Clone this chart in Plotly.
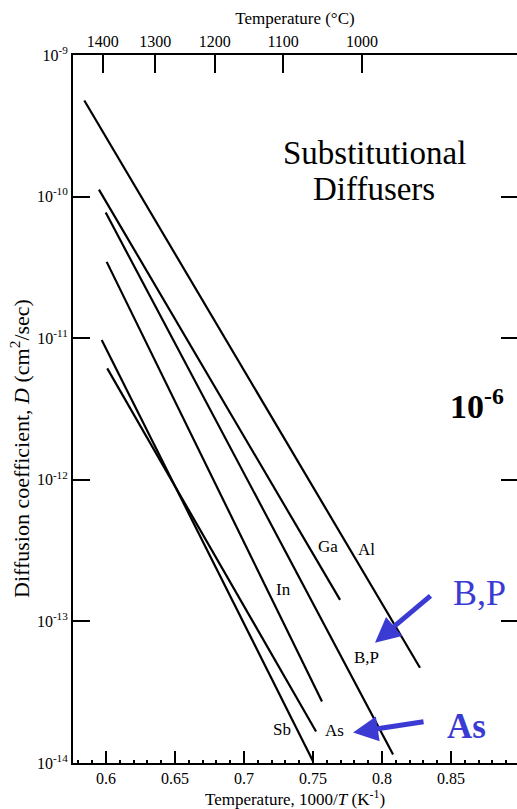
import math
import plotly.graph_objects as go

# ---------------- data ----------------
elements = ["Al", "Ga", "B,P", "In", "Sb", "As"]
x_start = [0.5843, 0.5949, 0.5998, 0.6005, 0.5969, 0.6009]
x_end = [0.8275, 0.7696, 0.8080, 0.7565, 0.7500, 0.7522]
d_start = [4.77e-10, 1.12e-10, 7.71e-11, 3.46e-11, 9.70e-12, 6.12e-12]
d_end = [4.71e-14, 1.42e-13, 1.15e-14, 2.72e-14, 1.03e-14, 1.67e-14]

label_x = [0.7891, 0.7609, 0.7884, 0.7283, 0.7275, 0.7659]
label_d = [3.21e-13, 3.37e-13, 5.53e-14, 1.67e-13, 1.72e-14, 1.69e-14]

celsius_ticks = [1400, 1300, 1200, 1100, 1000]
x_ticks = [0.6, 0.65, 0.7, 0.75, 0.8, 0.85]
y_exps = [-9, -10, -11, -12, -13, -14]

FONT = "Liberation Serif"
BLUE = "#3b3bd4"

fig = go.Figure()
for name, xs, xe, ds, de in zip(elements, x_start, x_end, d_start, d_end):
    fig.add_trace(go.Scatter(x=[xs, xe], y=[ds, de], mode="lines",
                             line=dict(color="black", width=2.2),
                             name=name, showlegend=False, hoverinfo="skip"))

# dummy traces to activate secondary axes
x_range = [0.5761, 0.8978]
fig.add_trace(go.Scatter(x=x_range, y=[1e-12, 1e-12], xaxis="x2", mode="lines",
                         line=dict(width=0), showlegend=False, hoverinfo="skip"))
fig.add_trace(go.Scatter(x=x_range, y=[1e-12, 1e-12], yaxis="y2", mode="lines",
                         line=dict(width=0), showlegend=False, hoverinfo="skip"))

# line labels
for name, lx, ld in zip(elements, label_x, label_d):
    fig.add_annotation(x=lx, y=math.log10(ld), text=name, showarrow=False,
                       xanchor="center", yanchor="middle",
                       font=dict(family=FONT, size=17, color="black"))

tick_font = dict(family=FONT, size=16, color="black")
title_font = dict(family=FONT, size=17, color="black")

PL, PT, PW, PH = 73, 55, 444.0, 708.0


def px(xp):
    return (xp - PL) / PW


def py(yp):
    return 1 - (yp - PT) / PH


fig.update_layout(
    width=517, height=809,
    margin=dict(l=PL, r=0, t=PT, b=46),
    paper_bgcolor="white", plot_bgcolor="white",
    xaxis=dict(range=x_range, tickvals=x_ticks, ticktext=[str(v) for v in x_ticks],
               ticks="inside", ticklen=12, tickwidth=1.5, tickcolor="black",
               showline=True, linewidth=2, linecolor="black", showgrid=False,
               zeroline=False, tickfont=tick_font,
               minor=dict(dtick=0.01, ticks="inside", ticklen=3, tickcolor="black", showgrid=False),
               title=dict(text="Temperature, 1000/<i>T</i> (K<sup>-1</sup>)", font=title_font, standoff=1)),
    xaxis2=dict(range=x_range, overlaying="x", side="top",
                tickvals=[1000.0 / (c + 273.0) for c in celsius_ticks],
                ticktext=[str(c) for c in celsius_ticks],
                ticks="inside", ticklen=18, tickwidth=1.5, tickcolor="black",
                showline=True, linewidth=2, linecolor="black", showgrid=False,
                zeroline=False, tickfont=tick_font,
                title=dict(text="Temperature (°C)", font=title_font, standoff=4)),
    yaxis=dict(type="log", range=[-14, -9],
               tickvals=[10.0 ** e for e in y_exps],
               ticktext=["10<sup>%d</sup>" % e for e in y_exps],
               ticks="inside", ticklen=17, tickwidth=2, tickcolor="black",
               showline=True, linewidth=2, linecolor="black", showgrid=False,
               zeroline=False, tickfont=tick_font),
    yaxis2=dict(type="log", range=[-14, -9], overlaying="y", side="right",
                tickvals=[10.0 ** e for e in y_exps[:-1]],
                ticks="inside", ticklen=16, tickwidth=2, tickcolor="black",
                showticklabels=False, showline=False, showgrid=False, zeroline=False),
)

# y-axis title (placed as annotation to match vertical position)
fig.add_annotation(xref="paper", yref="paper", x=px(20), y=py(449), xanchor="center", yanchor="middle",
                   textangle=-90, showarrow=False,
                   text="Diffusion coefficient, <i>D</i> (cm<sup>2</sup>/sec)",
                   font=dict(family=FONT, size=22, color="black"))

# text annotations
fig.add_annotation(xref="paper", yref="paper", x=px(374), y=py(153), xanchor="center", yanchor="middle",
                   showarrow=False, text="Substitutional", font=dict(family=FONT, size=33, color="black"))
fig.add_annotation(xref="paper", yref="paper", x=px(374), y=py(189), xanchor="center", yanchor="middle",
                   showarrow=False, text="Diffusers", font=dict(family=FONT, size=33, color="black"))
fig.add_annotation(xref="paper", yref="paper", x=px(477), y=py(404), xanchor="center", yanchor="middle",
                   showarrow=False, text="<b>10<sup>-6</sup></b>", font=dict(family=FONT, size=34, color="black"))

# blue callouts
fig.add_annotation(xref="paper", yref="paper", x=px(479), y=py(593), xanchor="center", yanchor="middle",
                   showarrow=False, text="B,P", font=dict(family=FONT, size=36, color=BLUE))
fig.add_annotation(xref="paper", yref="paper", x=px(466), y=py(726), xanchor="center", yanchor="middle",
                   showarrow=False, text="<b>As</b>", font=dict(family=FONT, size=35, color=BLUE))
fig.add_annotation(x=0.7949, y=-13.150, ax=57, ay=-48, text="", showarrow=True,
                   arrowhead=2, arrowsize=1.0, arrowwidth=5, arrowcolor=BLUE)
fig.add_annotation(x=0.7790, y=-13.785, ax=72, ay=-11, text="", showarrow=True,
                   arrowhead=2, arrowsize=1.0, arrowwidth=5, arrowcolor=BLUE)

fig.write_html("out.html", config={"displayModeBar": False},
               post_script="document.body.style.margin='0';")
